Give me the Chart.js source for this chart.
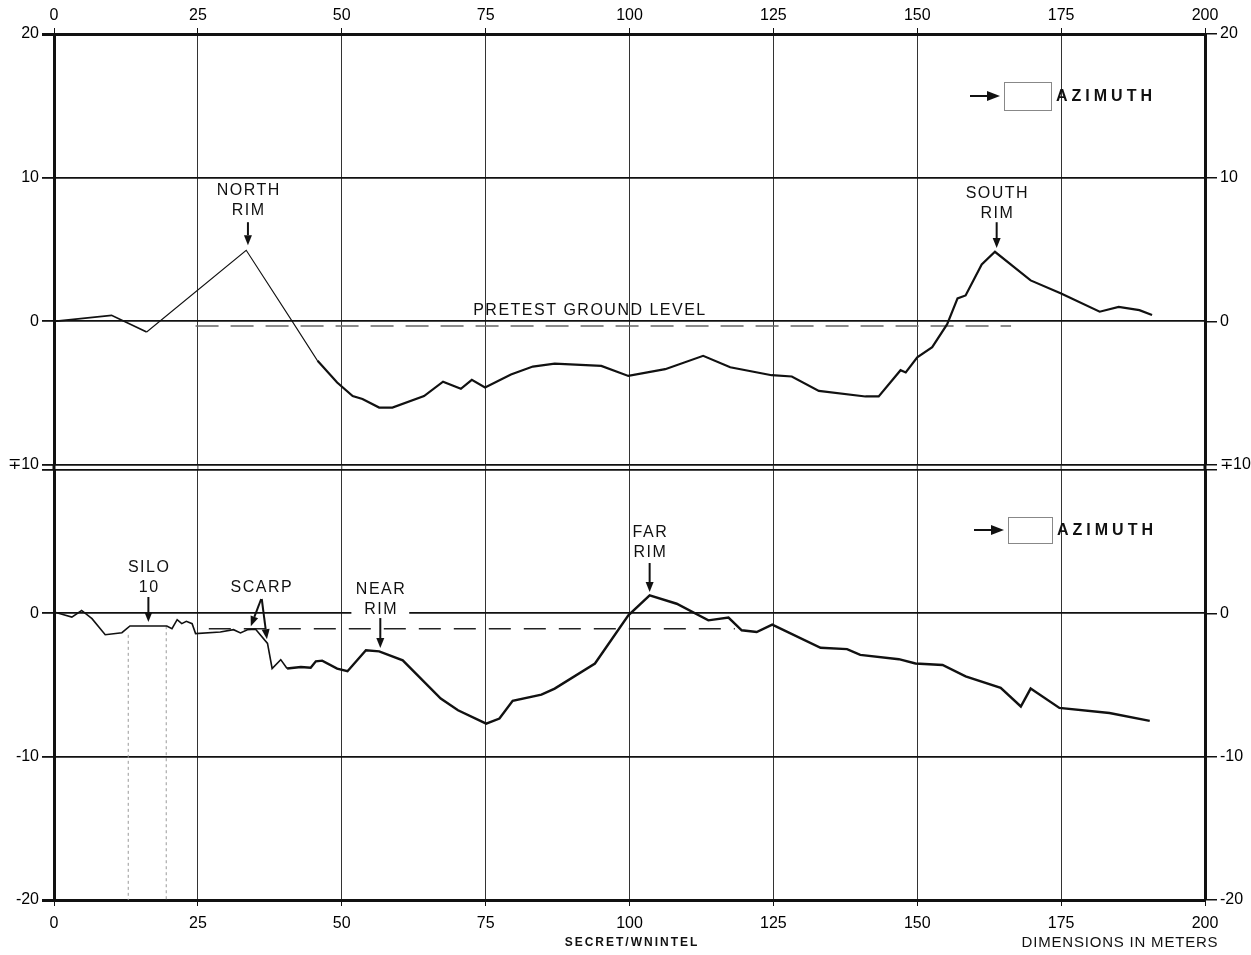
<!DOCTYPE html>
<html>
<head>
<meta charset="utf-8">
<script src="https://cdn.jsdelivr.net/npm/chart.js@4.4.1/dist/chart.umd.min.js"></script>
<style>
  html, body { margin: 0; padding: 0; background: #fff; }
  #wrap { position: relative; width: 1251px; height: 955px; overflow: hidden; background: #fff; }
  canvas { position: absolute; left: 0; }
  #top { top: 0; }
  #bot { top: 450px; }
  .foot { position: absolute; font-family: "Liberation Sans", Arial, sans-serif; color: #111; white-space: nowrap; transform: translateX(-50%); }
  #sec { left: 632px; top: 935px; font-size: 12px; font-weight: bold; letter-spacing: 2px; }
  #dim { left: 1120px; top: 933px; font-size: 15px; letter-spacing: 0.8px; }
</style>
</head>
<body>
<div id="wrap">
  <canvas id="top" width="1251" height="490"></canvas>
  <canvas id="bot" width="1251" height="505"></canvas>
  <div class="foot" id="sec">SECRET/WNINTEL</div>
  <div class="foot" id="dim">DIMENSIONS IN METERS</div>
</div>
<script>
// distance along profile (m)
var xTickStep = 25;
var yTickStep = 10;

// upper profile (north/south)
var topX = [0, 10, 16.1, 33.4, 41.4, 45.8, 49.2, 51.9, 53.6, 56.5, 58.8, 64.3, 67.6, 70.7, 72.6, 74.9, 79.4, 83.2, 87, 95.1, 99.8, 106.2, 112.8, 117.5, 124.7, 128.2, 132.9, 141, 143.3, 147.1, 148, 150, 152.6, 155.2, 157, 158.4, 161.2, 163.5, 169.7, 175, 181.7, 185, 188.6, 190.8];
var topY = [0, 0.42, -0.74, 4.95, 0, -2.75, -4.26, -5.2, -5.4, -6.0, -6.0, -5.2, -4.2, -4.7, -4.07, -4.6, -3.7, -3.15, -2.94, -3.1, -3.8, -3.33, -2.4, -3.2, -3.75, -3.84, -4.84, -5.23, -5.23, -3.4, -3.56, -2.5, -1.8, -0.2, 1.6, 1.8, 3.96, 4.84, 2.85, 1.94, 0.67, 1.0, 0.78, 0.44];
var pretestX = [24.6, 166.3];
var pretestY = [-0.33, -0.33];

// lower profile (silo 10 side)
var botX = [0, 3.1, 4.8, 6.6, 8.9, 11.8, 13.2, 19.6, 20.5, 21.4, 22.2, 23.0, 24.0, 24.6, 28.9, 31.2, 32.4, 33.6, 35.0, 37.1, 37.9, 39.4, 40.5, 42.9, 44.6, 45.5, 46.6, 49.2, 51, 54.2, 56.5, 60.6, 67.2, 70.2, 75.1, 77.4, 79.7, 84.7, 87, 94, 99.8, 103.5, 108.2, 113.7, 117.2, 119.5, 122.1, 124.8, 133.2, 137.8, 140.1, 146.8, 149.7, 154.4, 158.4, 164.5, 168, 169.7, 174.7, 183.4, 190.4];
var botY = [0.1, -0.26, 0.2, -0.37, -1.49, -1.35, -0.88, -0.88, -1.07, -0.44, -0.72, -0.56, -0.72, -1.41, -1.3, -1.14, -1.37, -1.14, -1.1, -2.1, -3.85, -3.23, -3.85, -3.74, -3.8, -3.35, -3.3, -3.86, -4.04, -2.58, -2.65, -3.28, -5.95, -6.76, -7.7, -7.34, -6.1, -5.67, -5.25, -3.5, -0.14, 1.25, 0.67, -0.49, -0.3, -1.18, -1.3, -0.79, -2.4, -2.5, -2.9, -3.2, -3.5, -3.6, -4.4, -5.2, -6.5, -5.25, -6.6, -6.95, -7.5];
var groundX = [26.9, 118.3];
var groundY = [-1.07, -1.07];
var siloX = [12.9, 19.5];
var siloTopY = [-1.5, -0.9];
var siloBottomY = -20;

var FONT = '"Liberation Sans", Arial, Helvetica, sans-serif';
Chart.defaults.font.family = FONT;
Chart.defaults.color = '#111';

function pts(xs, ys) {
  return xs.map(function (x, i) { return { x: x, y: ys[i] }; });
}

function arrow(ctx, x0, y0, x1, y1, L, W) {
  var a = Math.atan2(y1 - y0, x1 - x0);
  var bx = x1 - L * Math.cos(a), by = y1 - L * Math.sin(a);
  ctx.lineWidth = 2;
  ctx.beginPath(); ctx.moveTo(x0, y0); ctx.lineTo(bx, by); ctx.stroke();
  ctx.beginPath();
  ctx.moveTo(x1, y1);
  ctx.lineTo(bx - W * Math.sin(a), by + W * Math.cos(a));
  ctx.lineTo(bx + W * Math.sin(a), by - W * Math.cos(a));
  ctx.closePath(); ctx.fill();
}

// labels, arrows and the azimuth key
var notesPlugin = {
  id: 'notes',
  afterDatasetsDraw: function (chart, args, o) {
    var ctx = chart.ctx, a = chart.chartArea;
    var xs = chart.scales.x, ys = chart.scales.y;
    ctx.save();
    ctx.strokeStyle = '#111';
    ctx.fillStyle = '#111';

    if (o.gap) {
      // carry grid across the small break between the two panels
      ctx.lineWidth = 1;
      ctx.strokeStyle = '#333';
      xs.ticks.forEach(function (t) {
        var p = xs.getPixelForValue(t.value);
        ctx.beginPath(); ctx.moveTo(p, a.bottom); ctx.lineTo(p, a.bottom + o.gap); ctx.stroke();
      });
      ctx.strokeStyle = '#111';
      ctx.lineWidth = 3;
      [a.left, a.right].forEach(function (p) {
        ctx.beginPath(); ctx.moveTo(p, a.bottom); ctx.lineTo(p, a.bottom + o.gap); ctx.stroke();
      });
    }

    ctx.font = '16px ' + FONT;
    ctx.textAlign = 'center';
    ctx.textBaseline = 'middle';
    ctx.letterSpacing = '1.5px';
    o.notes.forEach(function (n) {
      var cx = xs.getPixelForValue(n.x), cy = ys.getPixelForValue(n.y);
      n.text.slice().reverse().forEach(function (t, i) {
        var y = cy - i * 20.5;
        if (n.knock) {
          var w = ctx.measureText(t).width;
          ctx.fillStyle = '#fff';
          ctx.fillRect(cx - w / 2 - 12, y - 9, w + 24, 18);
        }
        ctx.fillStyle = '#111';
        ctx.fillText(t, cx + 0.75, y);
      });
      (n.arrows || []).forEach(function (r) {
        arrow(ctx, xs.getPixelForValue(r[0]), ys.getPixelForValue(r[1]),
              xs.getPixelForValue(r[2]), ys.getPixelForValue(r[3]), 10, 4);
      });
    });

    if (o.azimuth) {
      var z = o.azimuth, my = z.y + z.h / 2;
      ctx.strokeStyle = '#888';
      ctx.lineWidth = 1;
      ctx.strokeRect(z.x + 0.5, z.y + 0.5, z.w, z.h);
      ctx.strokeStyle = '#111';
      ctx.fillStyle = '#111';
      arrow(ctx, z.x - 34, my, z.x - 4, my, 13, 5);
      ctx.font = 'bold 16px ' + FONT;
      ctx.letterSpacing = '4px';
      ctx.textAlign = 'left';
      ctx.fillText('AZIMUTH', z.x + z.w + 5, my + 1);
    }
    ctx.restore();
  }
};

function makeChart(id, o) {
  var tickFont = { size: 16 };
  return new Chart(document.getElementById(id), {
    type: 'line',
    data: { datasets: o.datasets },
    options: {
      responsive: false,
      animation: false,
      devicePixelRatio: 1,
      layout: { padding: o.padding },
      elements: { point: { radius: 0 }, line: { tension: 0 } },
      plugins: { legend: { display: false }, tooltip: { enabled: false }, notes: o.notes },
      scales: {
        x: {
          type: 'linear', position: o.xPos, min: 0, max: 200,
          ticks: { stepSize: xTickStep, padding: o.xPad, font: tickFont, color: '#000', maxRotation: 0 },
          grid: { color: '#333', lineWidth: 1, tickLength: 6, tickColor: '#111' },
          border: { color: '#111', width: 3 },
          afterFit: function (s) { s.height = o.xH; }
        },
        y: {
          position: 'left', min: o.yMin, max: o.yMax,
          ticks: { stepSize: yTickStep, padding: 3, font: tickFont, color: '#000', callback: o.yLabel },
          grid: {
            color: '#111', tickLength: 12, tickColor: '#111',
            lineWidth: function (c) { return c.tick && Math.abs(c.tick.value) === 20 ? 3 : 1.8; }
          },
          border: { color: '#111', width: 3 },
          afterFit: function (s) { s.width = 54; }
        },
        yr: {
          position: 'right', min: o.yMin, max: o.yMax,
          ticks: { stepSize: yTickStep, padding: 3, font: tickFont, color: '#000', callback: o.yLabel },
          grid: { drawOnChartArea: false, tickLength: 12, tickColor: '#111', lineWidth: 1.5 },
          border: { color: '#111', width: 3 },
          afterFit: function (s) { s.width = 46; }
        }
      }
    },
    plugins: [notesPlugin]
  });
}

makeChart('top', {
  padding: { top: 0, bottom: 25, left: 0, right: 0 },
  xPos: 'top', xH: 34, xPad: 3, yMin: -10, yMax: 20,
  yLabel: function (v) { return v === -10 ? '\u221310' : String(v); },
  datasets: [
    {
      data: pts(topX, topY), borderColor: '#111', borderWidth: 2.2,
      segment: {
        borderWidth: function (c) { var x = c.p0.parsed.x; return x < 16 ? 1.8 : (x < 45 ? 1.1 : 2.2); }
      }
    },
    { data: pts(pretestX, pretestY), borderColor: '#666', borderWidth: 1.5, borderDash: [23, 12] }
  ],
  notes: {
    gap: 5,
    notes: [
      { text: ['NORTH', 'RIM'], x: 33.7, y: 7.68, arrows: [[33.7, 6.9, 33.7, 5.3]] },
      { text: ['SOUTH', 'RIM'], x: 163.8, y: 7.47, arrows: [[163.8, 6.9, 163.8, 5.1]] },
      { text: ['PRETEST GROUND LEVEL'], x: 93, y: 0.72 }
    ],
    azimuth: { x: 1004, y: 82, w: 47, h: 28 }
  }
});

makeChart('bot', {
  padding: { top: 20, bottom: 0, left: 0, right: 0 },
  xPos: 'bottom', xH: 55, xPad: 8, yMin: -20, yMax: 10,
  yLabel: function (v) { return v === 10 ? '' : String(v); },
  datasets: [
    {
      data: pts(botX, botY), borderColor: '#111', borderWidth: 2.2,
      segment: { borderWidth: function (c) { return c.p0.parsed.x < 40 ? 1.6 : 2.4; } }
    },
    { data: pts(groundX, groundY), borderColor: '#222', borderWidth: 1.5, borderDash: [22, 13] },
    { data: pts([siloX[0], siloX[0]], [siloTopY[0], siloBottomY]), borderColor: '#999', borderWidth: 1, borderDash: [3, 3] },
    { data: pts([siloX[1], siloX[1]], [siloTopY[1], siloBottomY]), borderColor: '#999', borderWidth: 1, borderDash: [3, 3] }
  ],
  notes: {
    notes: [
      { text: ['SILO', '10'], x: 16.4, y: 1.77, arrows: [[16.4, 1.14, 16.4, -0.61]] },
      { text: ['SCARP'], x: 36, y: 1.77, arrows: [[36, 1.0, 34.2, -0.9], [36.1, 1.0, 37.0, -1.8]] },
      { text: ['NEAR', 'RIM'], x: 56.7, y: 0.23, knock: true, arrows: [[56.7, -0.33, 56.7, -2.42]] },
      { text: ['FAR', 'RIM'], x: 103.5, y: 4.21, arrows: [[103.5, 3.51, 103.5, 1.49]] }
    ],
    azimuth: { x: 1008, y: 67, w: 44, h: 26 }
  }
});
</script>
</body>
</html>
